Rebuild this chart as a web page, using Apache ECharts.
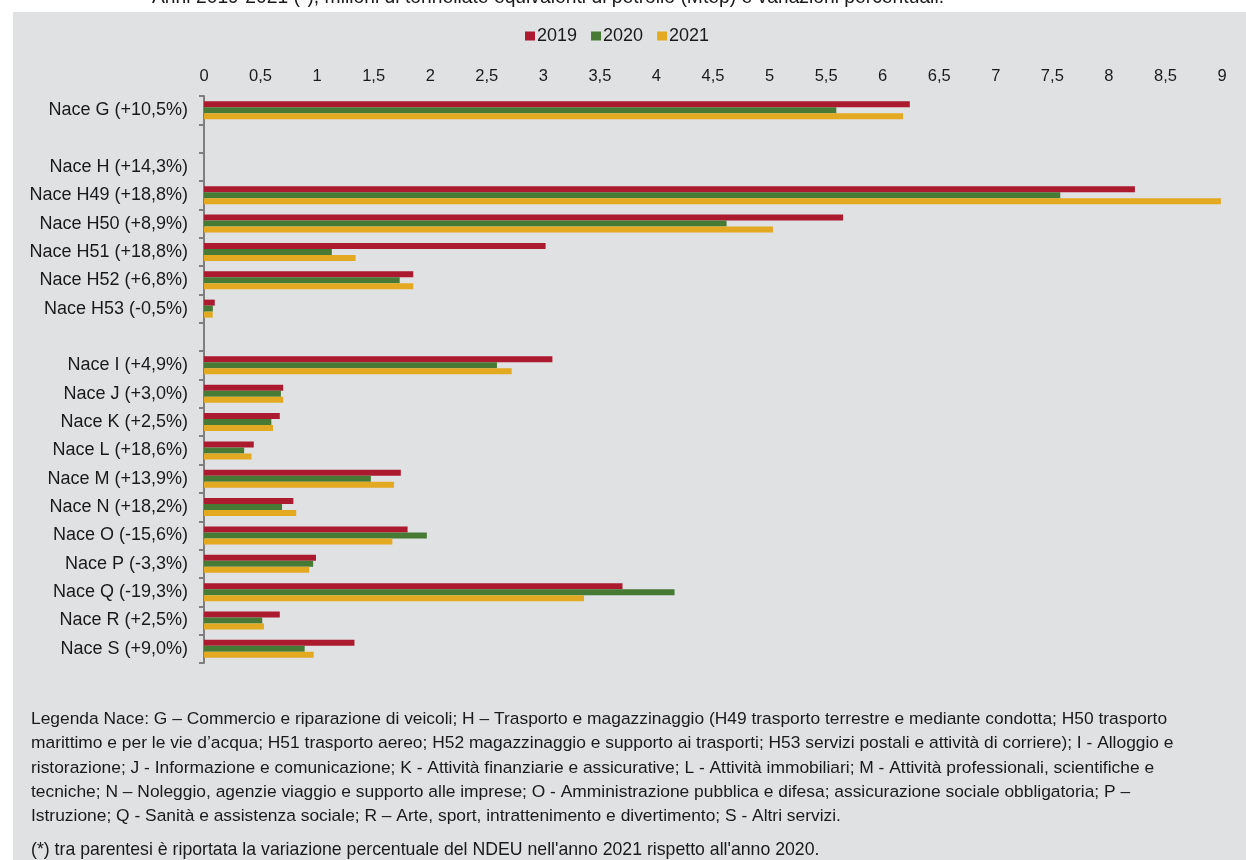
<!DOCTYPE html>
<html>
<head>
<meta charset="utf-8">
<script src="https://cdn.jsdelivr.net/npm/echarts@6/dist/echarts.min.js"></script>
<style>
  html, body { margin: 0; padding: 0; background: #ffffff; }
  #chart { width: 1246px; height: 860px; }
</style>
</head>
<body>
<div id="chart"></div>
<script>
// Energy consumption by NACE sector, Mtep, 2019-2021 (blank rows separate groups)
const categories = [
  'Nace G (+10,5%)', ' ', 'Nace H (+14,3%)', 'Nace H49 (+18,8%)', 'Nace H50 (+8,9%)',
  'Nace H51 (+18,8%)', 'Nace H52 (+6,8%)', 'Nace H53 (-0,5%)', '  ',
  'Nace I (+4,9%)', 'Nace J (+3,0%)', 'Nace K (+2,5%)', 'Nace L (+18,6%)',
  'Nace M (+13,9%)', 'Nace N (+18,2%)', 'Nace O (-15,6%)', 'Nace P (-3,3%)',
  'Nace Q (-19,3%)', 'Nace R (+2,5%)', 'Nace S (+9,0%)'
];
const values2019 = [6.24, null, null, 8.23, 5.65, 3.02, 1.85, 0.095, null,
  3.08, 0.70, 0.67, 0.44, 1.74, 0.79, 1.80, 0.99, 3.70, 0.67, 1.33];
const values2020 = [5.59, null, null, 7.57, 4.62, 1.13, 1.73, 0.078, null,
  2.59, 0.68, 0.595, 0.355, 1.475, 0.69, 1.97, 0.965, 4.16, 0.515, 0.89];
const values2021 = [6.18, null, null, 8.99, 5.03, 1.34, 1.85, 0.077, null,
  2.72, 0.70, 0.61, 0.42, 1.68, 0.815, 1.665, 0.93, 3.36, 0.53, 0.97];
const seriesNames = ['2019', '2020', '2021'];
const seriesColors = ['#ac1a2f', '#477a35', '#e3a920'];

const titleText = 'Anni 2019-2021 (*), milioni di tonnellate equivalenti di petrolio (Mtep) e variazioni percentuali.';
const noteLines = [
  'Legenda Nace: G – Commercio e riparazione di veicoli; H – Trasporto e magazzinaggio (H49 trasporto terrestre e mediante condotta; H50 trasporto',
  'marittimo e per le vie d’acqua; H51 trasporto aereo; H52 magazzinaggio e supporto ai trasporti; H53 servizi postali e attività di corriere); I - Alloggio e',
  'ristorazione; J - Informazione e comunicazione; K - Attività finanziarie e assicurative; L - Attività immobiliari; M - Attività professionali, scientifiche e',
  'tecniche; N – Noleggio, agenzie viaggio e supporto alle imprese; O - Amministrazione pubblica e difesa; assicurazione sociale obbligatoria; P –',
  'Istruzione; Q - Sanità e assistenza sociale; R – Arte, sport, intrattenimento e divertimento; S - Altri servizi.'
];
const footnote = '(*) tra parentesi è riportata la variazione percentuale del NDEU nell\'anno 2021 rispetto all\'anno 2020.';

const FONT = 'Liberation Sans, Arial, sans-serif';
const TEXT = '#1a1a1a';

const chart = echarts.init(document.getElementById('chart'), null, { renderer: 'canvas' });

const noteY = [719, 743, 768, 792, 816];
const graphics = [
  { type: 'rect', z: -10, silent: true,
    shape: { x: 13, y: 12, width: 1233, height: 848 },
    style: { fill: '#e0e1e3' } },
  { type: 'text', x: 152, y: 7, z: 10, silent: true,
    style: { text: titleText, fill: TEXT, font: '19.3px ' + FONT, verticalAlign: 'bottom' } }
];
noteLines.forEach((line, i) => {
  graphics.push({ type: 'text', x: 31, y: noteY[i], silent: true,
    style: { text: line, fill: TEXT, font: '17.4px ' + FONT, verticalAlign: 'middle' } });
});
graphics.push({ type: 'text', x: 31, y: 850, silent: true,
  style: { text: footnote, fill: TEXT, font: '17.7px ' + FONT, verticalAlign: 'middle' } });

chart.setOption({
  animation: false,
  backgroundColor: 'transparent',
  textStyle: { fontFamily: FONT },
  graphic: graphics,
  legend: {
    top: 22,
    left: 520,
    itemWidth: 10,
    itemHeight: 9,
    itemGap: 14,
    icon: 'rect',
    data: seriesNames,
    textStyle: { fontSize: 18, color: TEXT, padding: [0, 0, 0, -3] }
  },
  grid: { left: 204, right: 24, top: 96, bottom: 197, containLabel: false },
  xAxis: {
    type: 'value',
    position: 'top',
    min: 0,
    max: 9,
    interval: 0.5,
    axisLine: { show: false },
    axisTick: { show: false },
    splitLine: { show: false },
    axisLabel: {
      margin: 11,
      fontSize: 16.5,
      color: TEXT,
      formatter: v => String(v).replace('.', ',')
    }
  },
  yAxis: {
    type: 'category',
    inverse: true,
    data: categories,
    axisLine: { show: true, lineStyle: { color: '#7f7f7f', width: 2 } },
    axisTick: { show: true, length: 5, lineStyle: { color: '#7f7f7f', width: 2 } },
    axisLabel: { margin: 16, fontSize: 18, color: TEXT },
    splitLine: { show: false }
  },
  series: [values2019, values2020, values2021].map((vals, i) => ({
    name: seriesNames[i],
    type: 'bar',
    data: vals,
    barWidth: 6,
    barGap: '0%',
    itemStyle: { color: seriesColors[i] }
  }))
});
</script>
</body>
</html>
